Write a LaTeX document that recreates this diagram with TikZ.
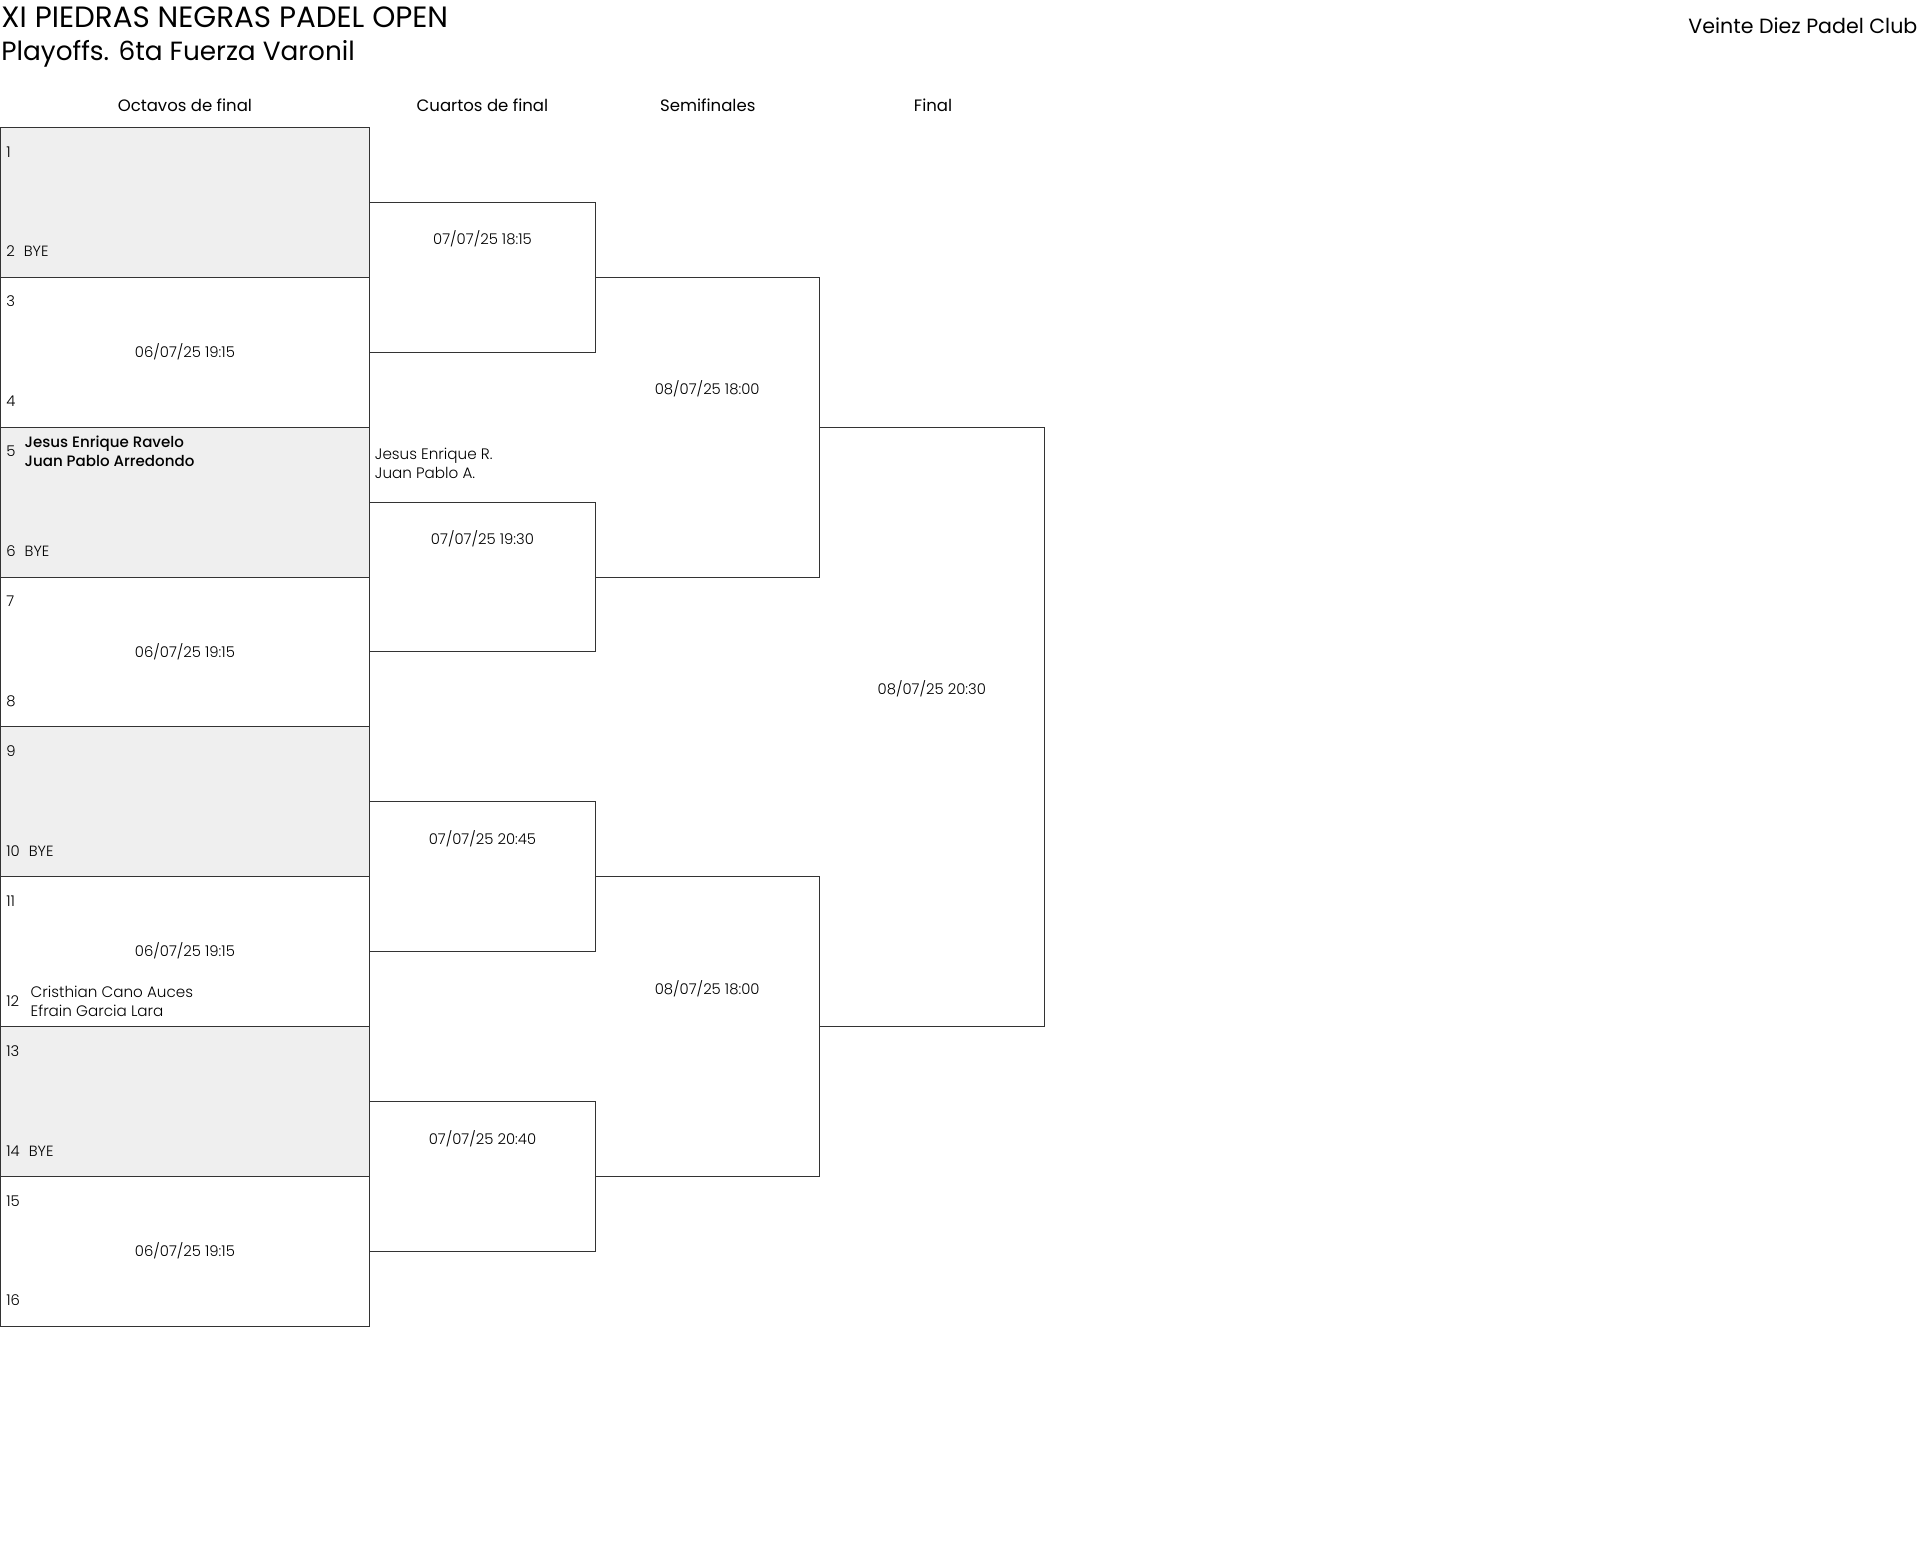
\documentclass[tikz,border=0pt]{standalone}
\usepackage{fontspec}
\setmainfont{Poppins}
\newfontfamily\medfont{Poppins Medium}
\newfontfamily\lightfont{Poppins Light}
\usetikzlibrary{positioning}
\definecolor{boxline}{HTML}{333333}
\definecolor{byegray}{HTML}{EFEFEF}

\tikzset{
  match/.style={draw=boxline, line width=0.8pt, rectangle, inner sep=0pt, outer sep=0pt, anchor=north west},
  slot/.style={rectangle, inner sep=0pt, outer sep=0pt, anchor=north west},
  bracket/.style={draw=boxline, line width=0.8pt},
  lbl/.style={inner sep=0pt, font=\lightfont\fontsize{12.1}{16}\selectfont, text height=8.6pt, text depth=0pt},
  names/.style={inner sep=0pt, align=left, anchor=west, font=\lightfont\fontsize{12.4}{15.5}\selectfont},
  header/.style={inner sep=0pt, font=\fontsize{13.5}{16}\selectfont, text height=9.6pt, text depth=0pt}
}

\begin{document}
\begin{tikzpicture}[x=1pt, y=-1pt]
\useasboundingbox (0,0) rectangle (1568,1272);

% Titles
\node[inner sep=0pt, anchor=west, font=\fontsize{24}{28}\selectfont, text height=17pt, text depth=0pt] (title) at (1,14) {XI PIEDRAS NEGRAS PADEL OPEN};
\node[inner sep=0pt, anchor=west, font=\fontsize{21.5}{26}\selectfont, text height=16pt, text depth=0pt] (subtitle) at (1,41) {Playoffs. 6ta Fuerza Varonil};
\node[inner sep=0pt, anchor=east, font=\fontsize{16.8}{20}\selectfont, text height=12pt, text depth=0pt] (club) at (1566,21) {Veinte Diez Padel Club};

% Round headers
\node[header] (hoct) at (151,86) {Octavos de final};
\node[header] (hcua) at (394,86) {Cuartos de final};
\node[header] (hsem) at (578,86) {Semifinales};
\node[header] (hfin) at (762,86) {Final};

% Octavos: 8 boxes, the odd ones are byes
\foreach \i in {1,...,8} {
  \pgfmathsetmacro\ytop{104+(\i-1)*122.4}
  \pgfmathtruncatemacro\sa{2*\i-1}
  \pgfmathtruncatemacro\sb{2*\i}
  \ifodd\i
    \node[match, fill=byegray, minimum width=301.4pt, minimum height=122.4pt] (m\i) at (0.6,\ytop) {};
  \else
    \node[match, minimum width=301.4pt, minimum height=122.4pt] (m\i) at (0.6,\ytop) {};
    \node[lbl] (d\i) at (151,\ytop+61.2) {06/07/25 19:15};
  \fi
  \node[lbl, anchor=west] (s\sa) at (5,\ytop+20) {\sa};
  \node[lbl, anchor=west] (s\sb) at (5,\ytop+101.4) {\sb};
  \ifodd\i
    \node[lbl, anchor=west, right=7pt of s\sb] (bye\i) {BYE};
  \fi
}

% Players
\node[names, font=\medfont\fontsize{12.3}{15.5}\selectfont, right=7pt of s5] (p5) {Jesus Enrique Ravelo\\Juan Pablo Arredondo};
\node[names, right=9pt of s12] (p12) {Cristhian Cano Auces\\Efrain Garcia Lara};

% Cuartos (open on the right between two matches)
\foreach \k/\hora in {1/18:15, 2/19:30, 3/20:45, 4/20:40} {
  \pgfmathsetmacro\ytop{165.2+(\k-1)*244.8}
  \node[slot, minimum width=184pt, minimum height=122.4pt] (q\k) at (302,\ytop) {};
  \draw[bracket] (q\k.north west) -- (q\k.north east) -- (q\k.south east) -- (q\k.south west);
  \node[lbl] (dq\k) at (394,\ytop+30.5) {07/07/25 \hora};
}
\node[names] (w5) at (306,378.5) {Jesus Enrique R.\\Juan Pablo A.};

% Semifinales
\node[slot, minimum width=183pt, minimum height=244.8pt] (sf1) at (486,226.4) {};
\node[slot, minimum width=183pt, minimum height=244.8pt] (sf2) at (486,716) {};
\draw[bracket] (sf1.north west) -- (sf1.north east) -- (sf1.south east) -- (sf1.south west);
\draw[bracket] (sf2.north west) -- (sf2.north east) -- (sf2.south east) -- (sf2.south west);
\node[lbl] (dsf1) at (577.5,318) {08/07/25 18:00};
\node[lbl] (dsf2) at (577.5,807.6) {08/07/25 18:00};

% Final
\node[slot, minimum width=184pt, minimum height=489.6pt] (fin) at (669,348.8) {};
\draw[bracket] (fin.north west) -- (fin.north east) -- (fin.south east) -- (fin.south west);
\node[lbl] (dfin) at (761,563) {08/07/25 20:30};
\end{tikzpicture}
\end{document}
